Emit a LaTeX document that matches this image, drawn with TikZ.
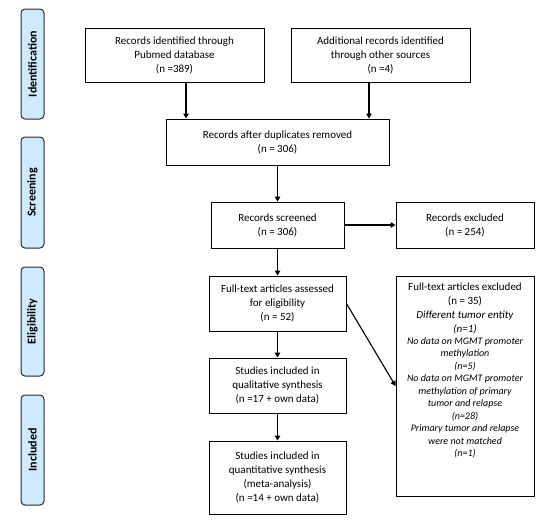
\documentclass[tikz,border=0pt]{standalone}
\usepackage{fontspec}
\setmainfont{Carlito}
\usetikzlibrary{arrows.meta}
\definecolor{lblfill}{RGB}{206,234,252}
\definecolor{lbldraw}{RGB}{40,40,40}
\begin{document}
\begin{tikzpicture}[x=1pt,y=-1pt,
  box/.style={draw=black, line width=0.9pt, fill=white, align=center, inner sep=1pt,
    font=\fontsize{11}{14}\selectfont},
  phase/.style={draw=lbldraw, line width=1pt, fill=lblfill, rounded corners=4pt,
    minimum width=23pt, inner sep=0pt, font=\bfseries\fontsize{12}{14}\selectfont},
  arr/.style={line width=1.1pt, -{Triangle[length=5pt,width=5.5pt]}}
]
\useasboundingbox (0,0) rectangle (550,522);
% phase labels
\node[phase, minimum height=110pt] (pid) at (32.5,64) {\rotatebox{90}{Identification}};
\node[phase, minimum height=111pt] (psc) at (32.5,192.5) {\rotatebox{90}{Screening}};
\node[phase, minimum height=109pt] (pel) at (32.5,321.5) {\rotatebox{90}{Eligibility}};
\node[phase, minimum height=110pt] (pin) at (32.5,450) {\rotatebox{90}{Included}};
% boxes
\node[box, minimum width=179pt, minimum height=54pt] (b1) at (174.5,55)
  {Records identified through\\Pubmed database\\(n =389)};
\node[box, minimum width=179pt, minimum height=54pt] (b2) at (380.5,55)
  {Additional records identified\\through other sources\\(n =4)};
\node[box, minimum width=223pt, minimum height=46pt] (b3) at (277.5,142)
  {Records after duplicates removed\\(n = 306)};
\node[box, minimum width=133pt, minimum height=46pt] (b4) at (277.5,225)
  {Records screened\\(n = 306)};
\node[box, minimum width=138pt, minimum height=46pt] (e1) at (465,225)
  {Records excluded\\(n = 254)};
\node[box, minimum width=137pt, minimum height=55pt] (b5) at (277.5,303.5)
  {Full-text articles assessed\\for eligibility\\(n = 52)};
\node[box, minimum width=138pt, minimum height=220pt] (e2) at (465,386) {};
\node[anchor=north, align=center, inner sep=0pt, font=\fontsize{11}{14}\selectfont] (e2t)
  at ([yshift=-7pt]e2.north)
  {Full-text articles excluded\\(n = 35)\\\textit{Different tumor entity}\\\textit{(n=1)}};
\node[anchor=north, align=center, inner sep=0pt, font=\fontsize{10}{12.5}\selectfont\itshape] (e2s)
  at ([yshift=-3pt]e2t.south)
  {No data on MGMT promoter\\methylation\\(n=5)\\
   No data on MGMT promoter\\methylation of primary\\tumor and relapse\\(n=28)\\
   Primary tumor and relapse\\were not matched\\(n=1)};
\node[box, minimum width=137pt, minimum height=55pt] (b6) at (277.5,385.5)
  {Studies included in\\qualitative synthesis\\(n =17 + own data)};
\node[box, minimum width=137pt, minimum height=73pt] (b7) at (277.5,477.5)
  {Studies included in\\quantitative synthesis\\(meta-analysis)\\(n =14 + own data)};
% connectors
\coordinate (a1) at ([xshift=11.5pt]b1.south);
\coordinate (a2) at ([xshift=-11.5pt]b2.south);
\draw[arr] (a1) -- (a1 |- b3.north);
\draw[arr] (a2) -- (a2 |- b3.north);
\draw[arr] (b3) -- (b4);
\draw[arr] (b4) -- (e1);
\draw[arr] (b4) -- (b5);
\draw[arr] (b5) -- (b6);
\draw[arr] (b6) -- (b7);
\draw[arr] (b5.east) -- (e2.west);
\end{tikzpicture}
\end{document}
